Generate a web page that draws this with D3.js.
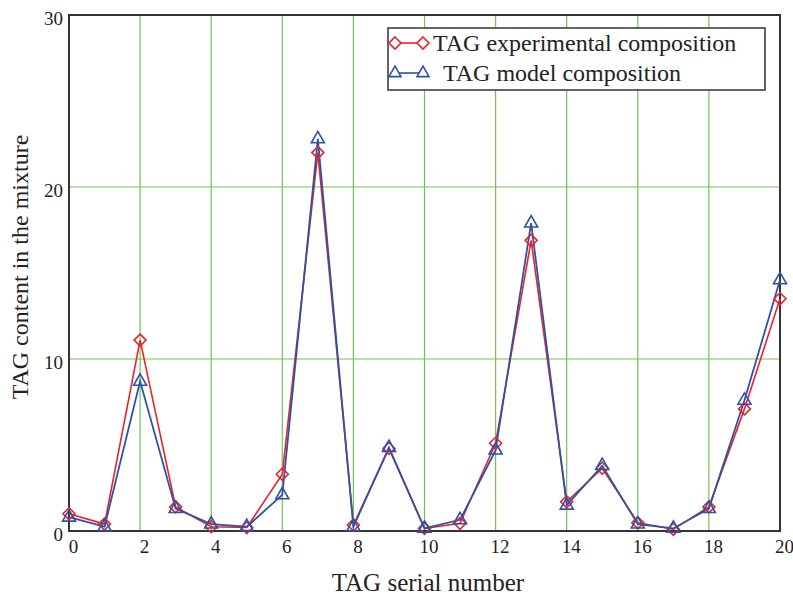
<!DOCTYPE html>
<html><head><meta charset="utf-8">
<script src="https://cdn.jsdelivr.net/npm/d3@7"></script>
<style>body{margin:0;background:#fff}svg{display:block}text{font-family:"Liberation Serif","Times New Roman",serif;fill:#222}</style>
</head><body><svg id="c" width="793" height="596"></svg>
<script>
const tagNumbers = [0,1,2,3,4,5,6,7,8,9,10,11,12,13,14,15,16,17,18,19,20];
const experimental = [1.0,0.4,11.1,1.4,0.25,0.2,3.3,22.0,0.35,4.8,0.15,0.45,5.1,16.9,1.7,3.65,0.48,0.1,1.4,7.1,13.5];
const model = [0.8,0.25,8.7,1.3,0.4,0.25,2.1,22.8,0.25,4.85,0.15,0.65,4.7,17.9,1.5,3.8,0.4,0.15,1.3,7.6,14.6];
const xTicks = [0,2,4,6,8,10,12,14,16,18,20];
const yTicks = [0,10,20,30];
const seriesNames = ["TAG experimental composition","TAG model composition"];

const svg = d3.select("#c");
const L=69,R=780,T=15,B=531;
const x = d3.scaleLinear().domain([0,20]).range([L,R]);
const y = d3.scaleLinear().domain([0,30]).range([B,T]);
const grid="#72c257", red="#e8232b", blue="#2f52a3";

// grid
svg.append("g").selectAll("line").data(xTicks.filter(d=>d>0&&d<20)).join("line")
  .attr("x1",d=>x(d)).attr("x2",d=>x(d)).attr("y1",T).attr("y2",B)
  .attr("stroke",grid).attr("stroke-width",1.2);
svg.append("g").selectAll("line").data(yTicks.filter(d=>d>0&&d<30)).join("line")
  .attr("y1",d=>y(d)).attr("y2",d=>y(d)).attr("x1",L).attr("x2",R)
  .attr("stroke",grid).attr("stroke-width",1.2);

// axes labels via d3 axes
const xAx = svg.append("g").attr("transform",`translate(4,${B})`)
  .call(d3.axisBottom(x).tickValues(xTicks).tickSize(0).tickPadding(9).tickFormat(d3.format("d")));
xAx.select(".domain").remove();
xAx.selectAll("text").style("font-size","19px").attr("fill","#222");
const yAx = svg.append("g").attr("transform",`translate(${L},3)`)
  .call(d3.axisLeft(y).tickValues(yTicks).tickSize(0).tickPadding(6).tickFormat(d3.format("d")));
yAx.select(".domain").remove();
yAx.selectAll("text").style("font-size","19px").attr("fill","#222");

// frame
svg.append("rect").attr("x",L).attr("y",T).attr("width",R-L).attr("height",B-T)
  .attr("fill","none").attr("stroke","#333").attr("stroke-width",2);

// lines
const line = d3.line().x((d,i)=>x(tagNumbers[i])).y(d=>y(d));
svg.append("path").datum(experimental).attr("d",line).attr("fill","none").attr("stroke",red).attr("stroke-width",1.6);
svg.append("path").datum(model).attr("d",line).attr("fill","none").attr("stroke",blue).attr("stroke-width",1.8);

const diamond = s=>`M0,${-s}L${s},0L0,${s}L${-s},0Z`;
const tri = s=>`M0,${-s*1.15}L${s},${s*0.6}L${-s},${s*0.6}Z`;
svg.append("g").selectAll("path").data(experimental).join("path")
  .attr("transform",(d,i)=>`translate(${x(tagNumbers[i])},${y(d)})`)
  .attr("d",diamond(6)).attr("fill","none").attr("stroke",red).attr("stroke-width",1.6);
svg.append("g").selectAll("path").data(model).join("path")
  .attr("transform",(d,i)=>`translate(${x(tagNumbers[i])},${y(d)})`)
  .attr("d",tri(6.5)).attr("fill","none").attr("stroke",blue).attr("stroke-width",1.6);

// legend
svg.append("rect").attr("x",388).attr("y",28).attr("width",377).attr("height",62)
  .attr("fill","#fff").attr("stroke","#333").attr("stroke-width",1.5);
const lg = [{c:red,m:diamond(6),y:43,tx:433},{c:blue,m:tri(6),y:73,tx:443}];
lg.forEach((e,i)=>{
  svg.append("line").attr("x1",395).attr("x2",423).attr("y1",e.y).attr("y2",e.y).attr("stroke",e.c).attr("stroke-width",1.6);
  [395,423].forEach(px=>svg.append("path").attr("transform",`translate(${px},${e.y})`).attr("d",e.m)
    .attr("fill","#fff").attr("stroke",e.c).attr("stroke-width",1.6));
  svg.append("text").attr("x",e.tx).attr("y",e.y+8).style("font-size","24px").text(seriesNames[i]);
});

// titles
svg.append("text").attr("x",428).attr("y",591).attr("text-anchor","middle").style("font-size","25px").text("TAG serial number");
svg.append("text").attr("transform","translate(28,267) rotate(-90)").attr("text-anchor","middle").style("font-size","24px").text("TAG content in the mixture");
</script></body></html>
